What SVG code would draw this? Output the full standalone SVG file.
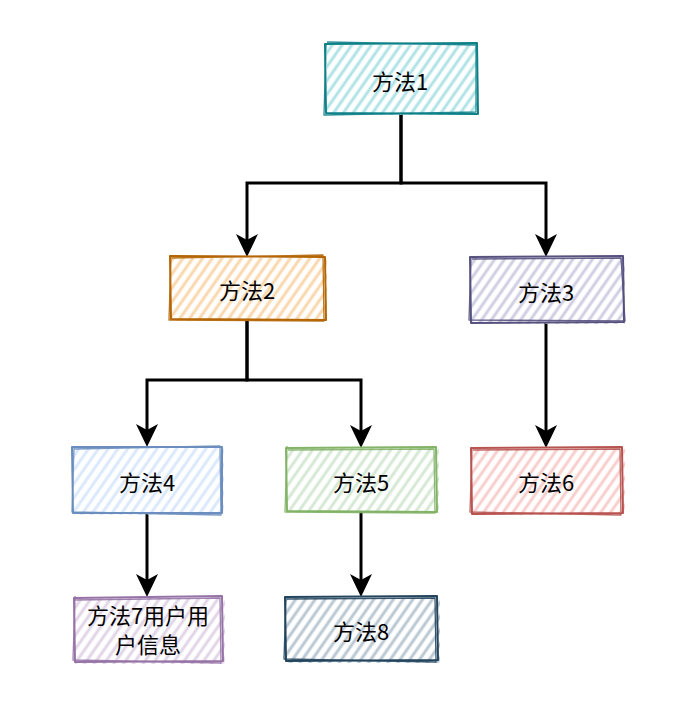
<svg xmlns="http://www.w3.org/2000/svg" width="680" height="714" viewBox="0 0 680 714">
<style>
.lbl{font-family:"Noto Sans CJK SC","Liberation Sans",sans-serif;font-size:22px;fill:#000;text-anchor:middle;dominant-baseline:central}
.edge{fill:none;stroke:#000;stroke-width:3;stroke-linejoin:miter}
.s{fill:none;stroke-width:2;stroke-linejoin:round}
.s2{fill:none;stroke-width:1.3;stroke-linejoin:round;opacity:0.9}
</style>
<defs>
<marker id="arr" markerUnits="userSpaceOnUse" markerWidth="24" markerHeight="22" refX="11" refY="11" orient="auto" viewBox="0 0 24 22">
<path d="M0,0 L23,11 L0,22 L6,11 z" fill="#000"/>
</marker>
<pattern id="h1" width="8" height="10" patternUnits="userSpaceOnUse" patternTransform="rotate(35)"><line x1="2" y1="0" x2="2" y2="10" stroke="#b0e3e6" stroke-width="3"/></pattern>
<pattern id="h2" width="8" height="10" patternUnits="userSpaceOnUse" patternTransform="rotate(35)"><line x1="2" y1="0" x2="2" y2="10" stroke="#fad7ac" stroke-width="3"/></pattern>
<pattern id="h3" width="8" height="10" patternUnits="userSpaceOnUse" patternTransform="rotate(35)"><line x1="2" y1="0" x2="2" y2="10" stroke="#d0cee2" stroke-width="3"/></pattern>
<pattern id="h4" width="8" height="10" patternUnits="userSpaceOnUse" patternTransform="rotate(35)"><line x1="2" y1="0" x2="2" y2="10" stroke="#dae8fc" stroke-width="3"/></pattern>
<pattern id="h5" width="8" height="10" patternUnits="userSpaceOnUse" patternTransform="rotate(35)"><line x1="2" y1="0" x2="2" y2="10" stroke="#d5e8d4" stroke-width="3"/></pattern>
<pattern id="h6" width="8" height="10" patternUnits="userSpaceOnUse" patternTransform="rotate(35)"><line x1="2" y1="0" x2="2" y2="10" stroke="#f8cecc" stroke-width="3"/></pattern>
<pattern id="h7" width="8" height="10" patternUnits="userSpaceOnUse" patternTransform="rotate(35)"><line x1="2" y1="0" x2="2" y2="10" stroke="#e1d5e7" stroke-width="3"/></pattern>
<pattern id="h8" width="8" height="10" patternUnits="userSpaceOnUse" patternTransform="rotate(35)"><line x1="2" y1="0" x2="2" y2="10" stroke="#bac8d3" stroke-width="3"/></pattern>
</defs>
<rect width="680" height="714" fill="#fff"/>

<g id="connectors">
<path class="edge" d="M401,114 L401,183 L247,183 L247,245" marker-end="url(#arr)"/>
<path class="edge" d="M401,114 L401,183 L546,183 L546,245" marker-end="url(#arr)"/>
<path class="edge" d="M247,320 L247,380 L147,380 L147,435" marker-end="url(#arr)"/>
<path class="edge" d="M247,320 L247,380 L361,380 L361,436" marker-end="url(#arr)"/>
<path class="edge" d="M546,322 L546,436" marker-end="url(#arr)"/>
<path class="edge" d="M147,513 L147,585" marker-end="url(#arr)"/>
<path class="edge" d="M361,512 L361,585" marker-end="url(#arr)"/>
</g>

<g id="n1">
<rect x="327" y="45" width="151" height="70" fill="url(#h1)"/>
<path class="s" stroke="#0e8088" d="M325,44 L477,43 L478,114 L326,113 Z"/>
<path class="s2" stroke="#0e8088" d="M327,42 L476,45 L476,112 L324,115 L326,45"/>
<text class="lbl" x="400" y="80">方法1</text>
</g>

<g id="n2">
<rect x="171" y="258" width="156" height="63" fill="url(#h2)"/>
<path class="s" stroke="#b46504" d="M170,256 L325,257 L326,320 L171,319 Z"/>
<path class="s2" stroke="#b46504" d="M172,258 L323,255 L324,321 L169,320 L171,255"/>
<text class="lbl" x="247" y="289">方法2</text>
</g>

<g id="n3">
<rect x="471" y="258" width="154" height="66" fill="url(#h3)"/>
<path class="s" stroke="#56517e" d="M470,257 L623,256 L624,322 L471,323 Z"/>
<path class="s2" stroke="#56517e" d="M472,259 L621,258 L625,321 L469,320 L471,256"/>
<text class="lbl" x="546" y="291">方法3</text>
</g>

<g id="n4">
<rect x="73" y="448" width="151" height="67" fill="url(#h4)"/>
<path class="s" stroke="#6c8ebf" d="M72,447 L222,447 L222,513 L73,513 Z"/>
<path class="s2" stroke="#6c8ebf" d="M74,449 L220,446 L221,515 L72,512 L74,447"/>
<text class="lbl" x="147" y="481">方法4</text>
</g>

<g id="n5">
<rect x="287" y="448" width="152" height="65" fill="url(#h5)"/>
<path class="s" stroke="#82b366" d="M286,448 L436,447 L437,512 L287,511 Z"/>
<path class="s2" stroke="#82b366" d="M288,450 L434,449 L435,513 L285,512 L287,446"/>
<text class="lbl" x="361" y="481">方法5</text>
</g>

<g id="n6">
<rect x="472" y="449" width="153" height="66" fill="url(#h6)"/>
<path class="s" stroke="#b85450" d="M471,448 L622,447 L623,513 L472,514 Z"/>
<path class="s2" stroke="#b85450" d="M473,450 L620,449 L621,515 L470,512 L472,447"/>
<text class="lbl" x="546" y="481">方法6</text>
</g>

<g id="n7">
<rect x="75" y="598" width="150" height="66" fill="url(#h7)"/>
<path class="s" stroke="#9673a6" d="M74,598 L222,596 L223,661 L75,662 Z"/>
<path class="s2" stroke="#9673a6" d="M73,600 L220,598 L221,663 L73,660 L75,596"/>
<text class="lbl" x="148" y="614">方法7用户用</text>
<text class="lbl" x="148" y="643">户信息</text>
</g>

<g id="n8">
<rect x="286" y="598" width="154" height="65" fill="url(#h8)"/>
<path class="s" stroke="#23445d" d="M285,597 L437,596 L438,660 L286,661 Z"/>
<path class="s2" stroke="#23445d" d="M287,599 L435,598 L436,662 L284,659 L286,596"/>
<text class="lbl" x="361" y="630">方法8</text>
</g>
</svg>
